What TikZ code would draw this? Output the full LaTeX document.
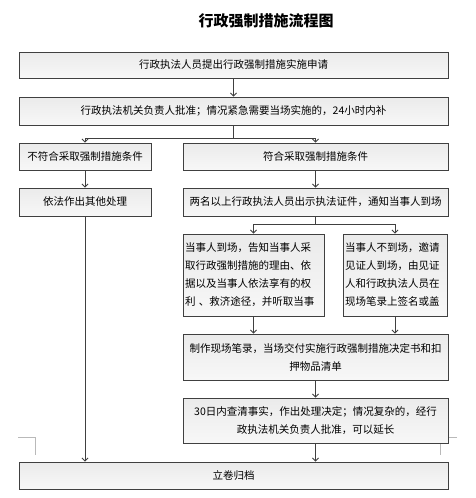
\documentclass[tikz,border=0pt]{standalone}
\usepackage{fontspec}
\setmainfont{Noto Sans CJK SC}
\usetikzlibrary{arrows.meta,shadows}
\tikzset{
  box/.style={draw=black!75, line width=0.9pt, top color=gray!16, middle color=white, bottom color=gray!6,
    drop shadow={shadow xshift=1.2pt, shadow yshift=-1.2pt, opacity=0.3},
    inner sep=2pt, font=\fontsize{10.5}{18}\selectfont, align=center},
  link/.style={draw=black!75, line width=0.8pt, -{Straight Barb[length=3pt,width=6pt]}},
  cropmark/.style={draw=gray!55, line width=0.8pt},
}
\begin{document}
\begin{tikzpicture}[x=1pt,y=-1pt]
  \useasboundingbox (0,0) rectangle (475,498);
  % page corner marks
  \draw[cropmark] (18,437) -- (35,437) -- (35,455);
  \draw[cropmark] (457,437) -- (440,437) -- (440,455);
  \node (title) at (266,21) {\fontsize{15}{18}\selectfont\bfseries 行政强制措施流程图};
  % boxes
  \node[box, minimum width=429pt, minimum height=26pt] (apply) at (233.5,65) {行政执法人员提出行政强制措施实施申请};
  \node[box, minimum width=429pt, minimum height=28pt] (approve) at (233.5,111) {行政执法机关负责人批准；情况紧急需要当场实施的，24小时内补};
  \node[box, minimum width=132pt, minimum height=27pt] (nofit) at (85,156.5) {不符合采取强制措施条件};
  \node[box, minimum width=265pt, minimum height=27pt] (fit) at (315.5,156.5) {符合采取强制措施条件};
  \node[box, minimum width=132pt, minimum height=28pt] (other) at (85,202) {依法作出其他处理};
  \node[box, minimum width=265pt, minimum height=28pt] (notify) at (315.5,202) {两名以上行政执法人员出示执法证件，通知当事人到场};
  \node[box, text width=137pt, minimum height=82pt, align=left] (present) at (253.5,275)
    {当事人到场，告知当事人采\\取行政强制措施的理由、依\\据以及当事人依法享有的权\\利 、救济途径，并听取当事};
  \node[box, text width=100pt, minimum height=82pt, align=left] (absent) at (395,275)
    {当事人不到场，邀请\\见证人到场，由见证\\人和行政执法人员在\\现场笔录上签名或盖};
  \node[box, minimum width=265pt, minimum height=46pt] (record) at (315.5,357)
    {制作现场笔录，当场交付实施行政强制措施决定书和扣\\押物品清单};
  \node[box, minimum width=265pt, minimum height=45pt] (decide) at (315.5,420.5)
    {30日内查清事实，作出处理决定；情况复杂的，经行\\政执法机关负责人批准，可以延长};
  \node[box, minimum width=429pt, minimum height=27pt] (file) at (233.5,475.5) {立卷归档};
  % connectors
  \coordinate (split) at (233.5,138);
  \coordinate (fork) at (315.5,224);
  \draw[link] (apply) -- (approve);
  \draw[draw=black!75, line width=0.8pt] (approve) -- (split);
  \draw[link] (split) -| (nofit);
  \draw[link] (split) -| (fit);
  \draw[link] (nofit) -- (other);
  \draw[link] (fit) -- (notify);
  \draw[draw=black!75, line width=0.8pt] (notify) -- (fork);
  \draw[link] (fork) -| (present);
  \draw[link] (fork) -| (absent);
  \draw[link] (present) -- (present |- record.north);
  \draw[link] (absent) -- (absent |- record.north);
  \draw[link] (record) -- (decide);
  \draw[link] (decide) -- (decide |- file.north);
  \draw[link] (other) -- (other |- file.north);
\end{tikzpicture}
\end{document}
